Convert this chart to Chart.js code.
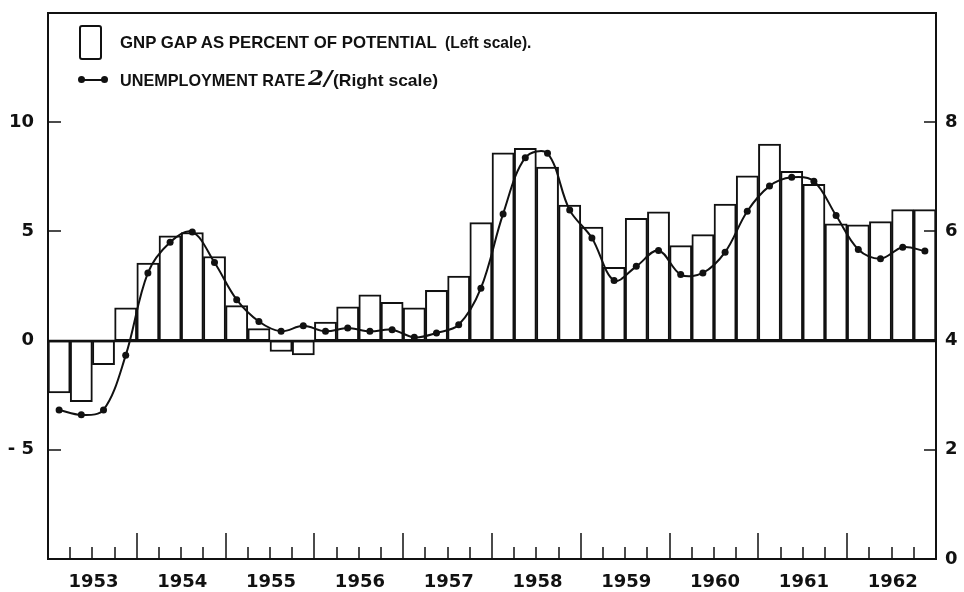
<!DOCTYPE html>
<html>
<head>
<meta charset="utf-8">
<script src="https://cdn.jsdelivr.net/npm/chart.js@4.4.0/dist/chart.umd.min.js"></script>
<style>
  html, body { margin:0; padding:0; background:#fff; }
  #wrap { position:relative; width:964px; height:592px; }
  #wrap canvas { position:absolute; left:0; top:0; }
  .lg { position:absolute; font-family:"Liberation Sans", Arial, sans-serif; font-weight:bold; color:#111;
        white-space:nowrap; font-size:17px; line-height:18px; transform-origin:0 50%; }
  .lg-box { position:absolute; left:79px; top:25px; width:19px; height:31px; border:2px solid #111; border-radius:3px; }
  .lg-line { position:absolute; left:81px; top:79px; width:23px; height:2px; background:#111; }
  .lg-dot { position:absolute; width:7px; height:7px; border-radius:50%; background:#111; top:76px; }
  .fn { font-family:"DejaVu Serif", serif; font-style:italic; font-size:20px; }
</style>
</head>
<body>
<div id="wrap">
  <canvas id="chart" width="964" height="592"></canvas>
  <div class="lg-box"></div>
  <div class="lg-line"></div>
  <div class="lg-dot" style="left:78px;"></div>
  <div class="lg-dot" style="left:101px;"></div>
  <div class="lg" data-w="317" style="left:120px; top:34px;">GNP GAP AS PERCENT OF POTENTIAL</div>
  <div class="lg" data-w="86" style="left:445px; top:34px;">(Left scale).</div>
  <div class="lg" data-w="185" style="left:120px; top:72px;">UNEMPLOYMENT RATE</div>
  <div class="lg fn" data-w="24" style="left:308px; top:69px;">2/</div>
  <div class="lg" data-w="105" style="left:333px; top:72px;">(Right scale)</div>
</div>
<script>
// quarterly, 1953 Q1 .. 1962 Q4
const YEARS = [1953, 1954, 1955, 1956, 1957, 1958, 1959, 1960, 1961, 1962];
const QUARTERS = ['Q1', 'Q2', 'Q3', 'Q4'];

// GNP gap, percent of potential (left scale)
const GNP_GAP = [
  -2.4, -2.8, -1.1, 1.5,
  3.55, 4.8, 4.95, 3.85,
  1.6, 0.55, -0.5, -0.65,
  0.85, 1.55, 2.1, 1.75,
  1.5, 2.3, 2.95, 5.4,
  8.6, 8.8, 7.95, 6.2,
  5.2, 3.35, 5.6, 5.9,
  4.35, 4.85, 6.25, 7.55,
  9.0, 7.75, 7.15, 5.35,
  5.3, 5.45, 6.0, 6.0
];

// unemployment rate, percent (right scale)
const UNEMPLOYMENT = [
  2.73, 2.64, 2.73, 3.73,
  5.24, 5.8, 5.99, 5.43,
  4.75, 4.35, 4.17, 4.27,
  4.17, 4.23, 4.17, 4.2,
  4.06, 4.14, 4.29, 4.96,
  6.32, 7.35, 7.43, 6.39,
  5.88, 5.1, 5.36, 5.65,
  5.21, 5.24, 5.62, 6.37,
  6.83, 6.99, 6.92, 6.29,
  5.67, 5.5, 5.71, 5.64
];

const LEFT_LABELS = [10, 5, 0, -5];
const RIGHT_LABELS = [8, 6, 4, 2, 0];

const labels = [];
YEARS.forEach(y => QUARTERS.forEach(q => labels.push(y + ' ' + q)));

// squeeze legend text to the widths of the original lettering
document.querySelectorAll('.lg[data-w]').forEach(el => {
  el.style.transform = 'scaleX(' + (el.dataset.w / el.offsetWidth) + ')';
});

const INK = '#111';
const tickFont = { family:'"DejaVu Sans", sans-serif', size:18, weight:'bold' };

// fixed axis sizes so the plot box lands where the original one is
function fitY(width) {
  return s => { s.width = width; s.paddingTop = 0; s.paddingBottom = 0; };
}

// frame, zero line and inward tick marks
const framePlugin = {
  id: 'framePlugin',
  afterDraw(chart) {
    const { ctx, chartArea: a, scales } = chart;
    const x = scales.x, y = scales.y, y1 = scales.y1;
    ctx.save();
    ctx.strokeStyle = INK;
    ctx.lineWidth = 2;
    ctx.strokeRect(a.left, a.top, a.right - a.left, a.bottom - a.top);
    ctx.lineWidth = 2.5;
    const y0 = Math.round(y.getPixelForValue(0));
    ctx.beginPath(); ctx.moveTo(a.left, y0); ctx.lineTo(a.right, y0); ctx.stroke();
    ctx.lineWidth = 1.5;
    ctx.beginPath();
    LEFT_LABELS.forEach(v => {
      const py = Math.round(y.getPixelForValue(v));
      ctx.moveTo(a.left, py); ctx.lineTo(a.left + 13, py);
    });
    RIGHT_LABELS.forEach(v => {
      const py = Math.round(y1.getPixelForValue(v));
      ctx.moveTo(a.right, py); ctx.lineTo(a.right - 12, py);
    });
    for (let i = 1; i < labels.length; i++) {
      const px = Math.round((x.getPixelForValue(i - 1) + x.getPixelForValue(i)) / 2);
      const len = i % 4 === 0 ? 26 : 12;
      ctx.moveTo(px, a.bottom); ctx.lineTo(px, a.bottom - len);
    }
    ctx.stroke();
    ctx.restore();
  }
};

const chart = new Chart(document.getElementById('chart'), {
  data: {
    labels,
    datasets: [
      { type:'line', label:'Unemployment rate', data:UNEMPLOYMENT, yAxisID:'y1', order:0,
        borderColor:INK, borderWidth:2, tension:0.35, pointRadius:3.5, pointBackgroundColor:INK, pointBorderWidth:0 },
      { type:'bar', label:'GNP gap', data:GNP_GAP, yAxisID:'y', order:1,
        backgroundColor:'#fff', borderColor:INK, borderWidth:2, borderSkipped:false,
        barPercentage:1, categoryPercentage:1 }
    ]
  },
  options: {
    responsive:false, animation:false, events:[],
    layout:{ padding:{ top:13, left:0, right:0, bottom:0 } },
    plugins:{ legend:{ display:false }, tooltip:{ enabled:false } },
    scales:{
      x:{
        grid:{ display:false, drawTicks:false }, border:{ display:false },
        afterFit:s => { s.height = 33; s.paddingLeft = 0; s.paddingRight = 0; },
        ticks:{ autoSkip:false, maxRotation:0, padding:13, labelOffset:-10, color:INK, font:tickFont,
          callback:(v, i) => i % 4 === 2 ? String(YEARS[Math.floor(i / 4)]) : '' }
      },
      y:{
        position:'left', min:-10, max:15,
        grid:{ display:false, drawTicks:false }, border:{ display:false },
        afterFit:fitY(48),
        afterBuildTicks:s => { s.ticks = LEFT_LABELS.map(v => ({ value:v })); },
        ticks:{ padding:14, color:INK, font:tickFont, callback:v => (v < 0 ? '- ' + (-v) : String(v)) }
      },
      y1:{
        position:'right', min:0, max:10,
        grid:{ display:false, drawTicks:false }, border:{ display:false },
        afterFit:fitY(28),
        afterBuildTicks:s => { s.ticks = RIGHT_LABELS.map(v => ({ value:v })); },
        ticks:{ padding:9, color:INK, font:tickFont }
      }
    }
  },
  plugins:[framePlugin]
});
</script>
</body>
</html>
